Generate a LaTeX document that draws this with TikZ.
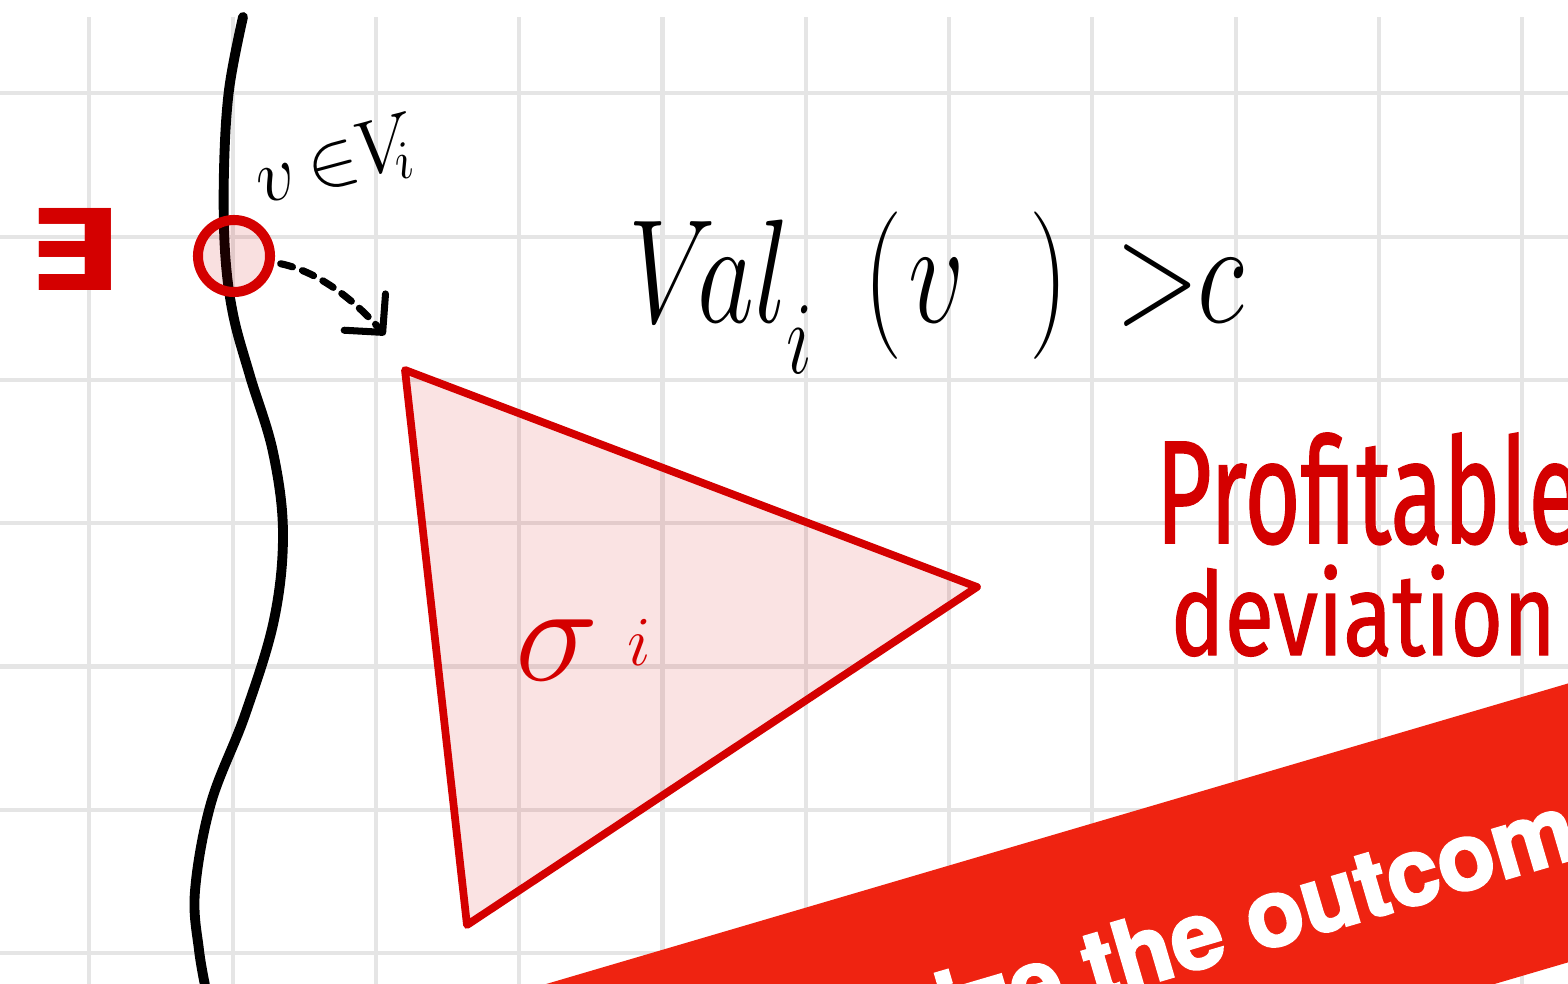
\RequirePackage{fix-cm}
\documentclass[tikz,border=0pt]{standalone}
\usepackage{fontspec}
\usepackage{graphicx}
\usetikzlibrary{arrows.meta}
\newfontfamily\bannerfont[FakeBold=2.5]{texgyreheros-bold.otf}
\newfontfamily\handfont[FakeBold=1.2]{Fira Sans}
\newfontfamily\symbfont{DejaVu Sans}
\definecolor{ink}{RGB}{212,0,0}
\definecolor{gridgray}{RGB}{229,229,229}
\definecolor{bannerred}{RGB}{239,35,17}
\tikzset{
  gridline/.style={draw=gridgray, line width=1.15pt},
  curveline/.style={draw=black, line width=2.8pt, line cap=round, line join=round},
  redstroke/.style={draw=ink, line width=2.2pt, line join=round},
  pinkfill/.style={fill=ink, fill opacity=0.11},
  dasharrow/.style={draw=black, line width=2pt, line cap=round, dash pattern=on 3.5pt off 3pt,
    -{Straight Barb[length=0.27cm, width=0.55cm, line width=2pt, round]}},
  redtext/.style={text=ink, inner sep=0pt},
  blacktext/.style={text=black, inner sep=0pt},
}
\begin{document}
\begin{tikzpicture}[x=0.01cm, y=-0.01cm]
\useasboundingbox (0,0) rectangle (1568,984);
\clip (0,0) rectangle (1568,984);
\fill[white] (0,0) rectangle (1568,984);
% grid
\foreach \i in {0,...,10} \draw[gridline] ({89.3+143.3*\i},17) -- ({89.3+143.3*\i},990);
\foreach \j in {0,...,6} \draw[gridline] (-5,{93.3+143.3*\j}) -- (1575,{93.3+143.3*\j});
% triangle sigma_i
\coordinate (t1) at (405,370);
\coordinate (t2) at (977,587);
\coordinate (t3) at (467,925);
\filldraw[redstroke, pinkfill] (t1) -- (t2) -- (t3) -- cycle;
% black curve
\draw[curveline] plot[smooth, tension=0.6] coordinates {(243,17) (229,90) (224,170) (225,251) (233,314) (250,376) (273,452) (283,533) (274,620) (245,715) (211,803) (195,891) (199,950) (207,995)};
% circle
\node[circle, draw=ink, line width=2.85pt, fill=ink, fill opacity=0.12, draw opacity=1, minimum size=0.72cm, inner sep=0pt] (circ) at (234,256) {};
% exists
\node[redtext, anchor=base west, font=\fontsize{33}{33}\selectfont\symbfont\bfseries] (exists) at (26,290) {\scalebox{1.2}[0.97]{∃}};
% v in V_i
\node[blacktext, anchor=base west, rotate=15, font=\fontsize{22}{22}\selectfont] (member) at (262,205) {$v\,{\in}V_{\!i}$};
% dashed arrow
\coordinate (tip) at (385,335);
\draw[dasharrow] ([shift={(6,2)}]circ.-8) .. controls (320,272) and (356,302) .. (tip);
% Val_i(v) > c
\node[blacktext, anchor=base west, font=\fontsize{42}{42}\selectfont] (val) at (628,322)
  {\scalebox{0.75}[1]{$V\!al_{\raisebox{-0.2em}{$\scriptstyle i$}}\hspace{0.45em}(\hspace{0.05em}v\hspace{0.58em})\hspace{0.15em}>\hspace{-0.3em}c$}};
% sigma_i
\node[redtext, anchor=base west, font=\fontsize{40}{40}\selectfont] (sigma) at (515,680) {$\sigma\hspace{0.2em}\raisebox{0.1em}{$\scriptscriptstyle i$}$};
% Profitable deviation
\node[redtext, anchor=base west] (prof) at (1155,543) {\resizebox{4.25cm}{1.1cm}{\handfont Profitable}};
\node[redtext, anchor=base west] (dev) at (1170,655) {\resizebox{3.85cm}{0.9cm}{\handfont deviation}};
% banner
\fill[bannerred] (417,1022) -- (1760,627) -- (1835.5,883.7) -- (492.5,1278.7) -- cycle;
\node[text=white, inner sep=0pt, anchor=base west, rotate=16.4, font=\fontsize{26.8}{27}\selectfont\bannerfont] (banner) at (948,1043) {ize the outcome};
\end{tikzpicture}
\end{document}
